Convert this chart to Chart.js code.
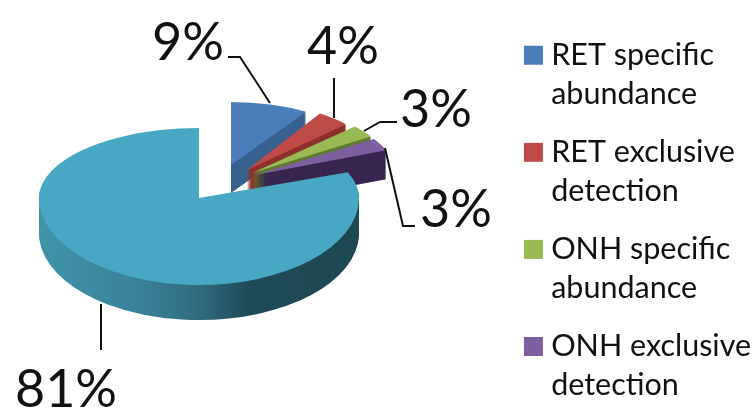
<!DOCTYPE html>
<html>
<head>
<meta charset="utf-8">
<script src="https://cdn.jsdelivr.net/npm/chart.js@4"></script>
<style>
    html, body { margin: 0; padding: 0; background: #fff; }
    canvas { display: block; }
</style>
</head>
<body>
<canvas id="pie" width="753" height="410"></canvas>
<script>
//数据
const categories = [
    ['RET specific', 'abundance'],
    ['RET exclusive', 'detection'],
    ['ONH specific', 'abundance'],
    ['ONH exclusive', 'detection']
];
const allLabels = categories.concat([['Other', '']]);
const shareValues = [9, 4, 3, 3, 81];
const topColors = ['#4a7ebb', '#be4b48', '#98b954', '#7d5fa0', '#48a8c4'];
const sideColors = ['#38618f', '#8e302d', '#5f7a30', '#38264f', null];

//样式: 每块的位置偏移和椭圆半径
const pieCentre = { x: 199, y: 198 };
const sliceShape = [
    { dx: 32, dy: -33, rx: 140, up: 63, down: 63, depth: 28 },
    { dx: 48, dy: -28, rx: 136, up: 67, down: 67, depth: 28 },
    { dx: 53, dy: -25, rx: 141, up: 68, down: 68, depth: 28 },
    { dx: 56, dy: -23, rx: 141, up: 67, down: 67, depth: 29 },
    { dx: 0, dy: 0, rx: 160, up: 70, down: 87, depth: 35 }
];
const tealSideStops = [
    [0, '#4093aa'], [0.3, '#3a8299'], [0.5, '#2f6c80'], [0.65, '#1f4b58'], [1, '#1d4752']
];
const labelSpots = [
    { x: 152, y: 60 }, { x: 307, y: 64 }, { x: 400, y: 127 }, { x: 420, y: 227 }, { x: 15, y: 407 }
];
const leaderLines = [
    [[228, 57], [240, 57], [270, 103]],
    [[334, 78], [334, 118]],
    [[397, 122], [380, 122], [364, 131]],
    [[415, 226], [403, 226], [385, 148]],
    [[101, 304], [101, 350]]
];

//画一层扇形,上下两半用不同的纵向半径
const paintLayer = (ctx, chart, arc, shape, fill, lift) => {
    const cx = pieCentre.x + shape.dx;
    const cy = pieCentre.y + shape.dy + lift;
    const savedOptions = arc.options;
    arc.options = { ...savedOptions, backgroundColor: fill, borderWidth: 0 };
    [[0, cy, shape.up], [cy, chart.height - cy, shape.down]].forEach(([top, height, ry]) => {
        ctx.save();
        ctx.beginPath();
        ctx.rect(0, top, chart.width, height);
        ctx.clip();
        ctx.translate(cx, cy);
        ctx.scale(shape.rx / arc.outerRadius, ry / arc.outerRadius);
        ctx.translate(-arc.x, -arc.y);
        arc.draw(ctx);
        ctx.restore();
    });
    arc.options = savedOptions;
};

const pie3d = {
    id: 'pie3d',
    beforeDatasetDraw(chart, args) {
        const ctx = chart.ctx;
        chart.getDatasetMeta(args.index).data.forEach((arc, index) => {
            const shape = sliceShape[index];
            let side = sideColors[index];
            if (side === null) {
                const gradient = ctx.createLinearGradient(arc.x - arc.outerRadius, 0, arc.x + arc.outerRadius, 0);
                tealSideStops.forEach(stop => gradient.addColorStop(stop[0], stop[1]));
                side = gradient;
            }
            for (let lift = shape.depth; lift > 0; lift--) {
                paintLayer(ctx, chart, arc, shape, side, lift);
            }
            paintLayer(ctx, chart, arc, shape, topColors[index], 0);
        });
        return false;
    },
    afterDraw(chart) {
        const ctx = chart.ctx;
        ctx.save();
        ctx.strokeStyle = '#111';
        ctx.lineWidth = 2;
        leaderLines.forEach(line => {
            ctx.beginPath();
            line.forEach((p, i) => i === 0 ? ctx.moveTo(p[0], p[1]) : ctx.lineTo(p[0], p[1]));
            ctx.stroke();
        });
        ctx.fillStyle = '#111';
        ctx.font = '52px Lato';
        ctx.textBaseline = 'alphabetic';
        shareValues.forEach((value, index) => {
            ctx.fillText(value + '%', labelSpots[index].x, labelSpots[index].y);
        });
        ctx.restore();
    }
};

new Chart(document.getElementById('pie').getContext('2d'), {
    type: 'pie',
    data: {
        labels: allLabels,
        datasets: [{ data: shareValues, backgroundColor: topColors, borderWidth: 0 }]
    },
    options: {
        responsive: false,
        animation: false,
        layout: { padding: { top: 21, right: -231 } },
        plugins: {
            tooltip: { enabled: false },
            legend: {
                position: 'right',
                align: 'start',
                labels: {
                    color: '#111',
                    font: { family: 'Lato', size: 30.5, lineHeight: 1.28 },
                    boxWidth: 5,
                    boxHeight: 5,
                    padding: 19,
                    filter: item => item.index < categories.length,
                    generateLabels: chart => Chart.overrides.pie.plugins.legend.labels.generateLabels(chart).map(item => ({
                        ...item,
                        strokeStyle: item.fillStyle,
                        lineWidth: 14
                    }))
                }
            }
        }
    },
    plugins: [pie3d]
});
</script>
</body>
</html>
